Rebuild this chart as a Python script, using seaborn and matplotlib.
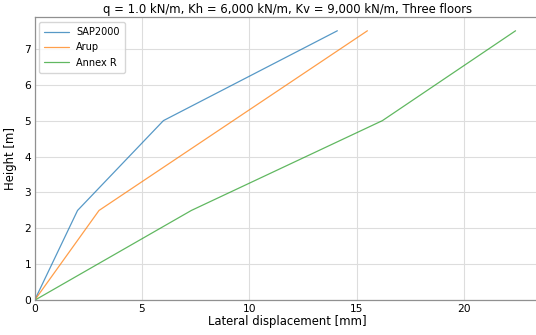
import matplotlib
matplotlib.use("Agg")
import matplotlib.pyplot as plt
import seaborn as sns
import pandas as pd

# Storey heights [m]
heights = [0.0, 2.5, 5.0, 7.5]

# Lateral displacement at each storey [mm]
sap2000 = [0.0, 2.0, 6.0, 14.1]
arup = [0.0, 3.0, 9.25, 15.5]
annex_r = [0.0, 7.3, 16.2, 22.4]

series_names = ["SAP2000", "Arup", "Annex R"]

frames = []
for name, disp in zip(series_names, [sap2000, arup, annex_r]):
    frames.append(pd.DataFrame({"disp": disp, "height": heights, "model": name}))
df = pd.concat(frames, ignore_index=True)

sns.set_theme(style="whitegrid")
plt.rcParams["font.family"] = ["DejaVu Sans"]
plt.rcParams["text.color"] = "black"
plt.rcParams["axes.labelcolor"] = "black"
plt.rcParams["xtick.color"] = "black"
plt.rcParams["ytick.color"] = "black"

fig = plt.figure(figsize=(5.36, 3.35), dpi=100)
ax = fig.add_axes([34.6 / 536, 1 - 300.3 / 335, (539.6 - 34.6) / 536, (300.3 - 17.3) / 335])

sns.lineplot(data=df, x="disp", y="height", hue="model", palette="tab10",
             sort=False, linewidth=0.9, alpha=0.75, ax=ax, estimator=None)

ax.set_xlim(0, 23.52)
ax.set_ylim(0, 7.875)
ax.set_xticks([0, 5, 10, 15, 20])
ax.set_yticks(range(0, 8))
ax.tick_params(labelsize=7.7, pad=2.5, length=0)
ax.set_xlabel("Lateral displacement [mm]", fontsize=8.4, labelpad=1)
ax.set_ylabel("Height [m]", fontsize=8.4, labelpad=5)
ax.set_title("q = 1.0 kN/m, Kh = 6,000 kN/m, Kv = 9,000 kN/m, Three floors",
             fontsize=8.4, pad=3)

for side in ["left", "bottom", "top", "right"]:
    ax.spines[side].set_color("#909090")
    ax.spines[side].set_linewidth(0.9)
ax.grid(color="#dddddd", linewidth=0.8)

leg = ax.legend(loc="upper left", fontsize=7, frameon=True, handlelength=2.5,
                borderpad=0.5, labelspacing=0.55)
leg.set_title(None)
for line in leg.get_lines():
    line.set_alpha(0.75)

fig.savefig("out.png", dpi=100)
